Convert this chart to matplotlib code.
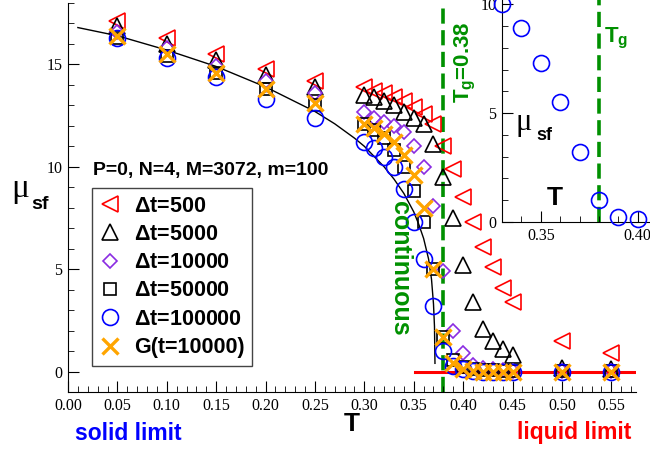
import numpy as np
import matplotlib
matplotlib.use("Agg")
import matplotlib.pyplot as plt
from matplotlib.ticker import MultipleLocator, FormatStrFormatter

plt.rcParams['font.family'] = ['Liberation Sans', 'DejaVu Sans']
plt.rcParams['mathtext.fontset'] = 'custom'
plt.rcParams['mathtext.rm'] = 'Liberation Sans:bold'
plt.rcParams['mathtext.bf'] = 'Liberation Sans:bold'
plt.rcParams['mathtext.it'] = 'Liberation Serif'

# temperatures of the measurements
T = [0.05, 0.10, 0.15, 0.20, 0.25,
     0.30, 0.31, 0.32, 0.33, 0.34, 0.35, 0.36, 0.37, 0.38, 0.39, 0.40,
     0.41, 0.42, 0.43, 0.44, 0.45, 0.50, 0.55]

mu_dt500 = [17.1, 16.3, 15.5, 14.8, 14.2,
            13.9, 13.7, 13.6, 13.4, 13.2, 12.9, 12.6, 12.1, 11.0, 9.9, 8.5,
            7.3, 6.1, 5.1, 4.1, 3.4, 1.5, 0.9]
mu_dt5000 = [16.9, 16.0, 15.2, 14.5, 13.9,
             13.5, 13.4, 13.2, 13.0, 12.7, 12.4, 12.1, 11.1, 9.5, 7.5, 5.2,
             3.4, 2.1, 1.5, 1.1, 0.8, 0.15, 0.1]
mu_dt10000 = [16.6, 15.8, 14.9, 14.2, 13.6,
              12.7, 12.4, 12.2, 12.0, 11.7, 11.0, 10.0, 8.1, 4.9, 2.0, 0.9,
              0.3, 0.15, 0.1, 0.08, 0.05, 0.05, 0.05]
mu_dt50000 = [16.3, 15.4, 14.6, 13.8, 13.0,
              12.1, 11.8, 11.4, 10.8, 10.0, 8.8, 7.3, 5.0, 1.7, 0.55, 0.2,
              0.1, 0.08, 0.06, 0.05, 0.05, 0.05, 0.05]
mu_dt100000 = [16.3, 15.3, 14.4, 13.3, 12.4,
               11.2, 10.9, 10.5, 10.0, 8.9, 7.3, 5.5, 3.2, 1.0, 0.25, 0.12,
               0.05, 0.0, 0.0, 0.0, 0.0, 0.0, 0.0]
mu_G = [16.4, 15.5, 14.6, 13.8, 13.1,
        12.1, 11.9, 11.6, 11.2, 10.6, 9.6, 8.0, 5.0, 1.7, 0.4, 0.1,
        0.05, 0.0, 0.0, 0.0, 0.0, 0.0, 0.0]

# fitted curve
fit_T = [0.01, 0.05, 0.10, 0.15, 0.20, 0.25, 0.27, 0.29, 0.30, 0.31, 0.32,
         0.33, 0.34, 0.35, 0.355, 0.36, 0.365, 0.368, 0.370, 0.371, 0.3715]
fit_mu = [16.8, 16.4, 15.7, 14.9, 13.9, 12.7, 12.1, 11.4, 11.0, 10.5, 10.0,
          9.4, 8.7, 7.8, 7.2, 6.5, 5.5, 4.5, 3.3, 2.2, 0.4]

zero_T = [0.351, 0.575]
zero_mu = [0.0, 0.0]
T_g = 0.38

GREEN = '#009000'
PURPLE = '#8a2be2'
ORANGE = '#ffa500'

W, H = 650, 450


def fx(x):
    return x / W


def fy(y):
    return 1 - y / H


fig = plt.figure(figsize=(6.5, 4.5), dpi=100)
ax = fig.add_axes([fx(68), fy(392), (636 - 68) / W, (392 - 3) / H])

ax.plot(fit_T, fit_mu, color='black', lw=1.0, zorder=2)
ax.plot(zero_T, zero_mu, color='red', lw=2.2, zorder=2)
ax.axvline(T_g, color=GREEN, lw=2.6, dashes=(4.2, 1.8), zorder=1)

mk = dict(ls='none', mfc='none', clip_on=False, zorder=3)
ax.plot(T, mu_dt500, marker='<', ms=11, mec='red', mew=1.2, label=r'$\Delta$t=500', **mk)
ax.plot(T, mu_dt5000, marker='^', ms=11, mec='black', mew=1.2, label=r'$\Delta$t=5000', **mk)
ax.plot(T, mu_dt10000, marker='D', ms=7.5, mec=PURPLE, mew=1.2, label=r'$\Delta$t=10000', **mk)
ax.plot(T, mu_dt50000, marker='s', ms=8, mec='black', mew=1.2, label=r'$\Delta$t=50000', **mk)
ax.plot(T, mu_dt100000, marker='o', ms=11.5, mec='blue', mew=1.2, label=r'$\Delta$t=100000', **mk)
ax.plot(T, mu_G, marker='x', ms=11, mec=ORANGE, mew=2.4, label='G(t=10000)', **mk)

ax.set_xlim(0, 0.575)
ax.set_ylim(-1, 18)
for s in ['top', 'right']:
    ax.spines[s].set_visible(False)
ax.xaxis.set_major_locator(MultipleLocator(0.05))
ax.xaxis.set_minor_locator(MultipleLocator(0.01))
ax.xaxis.set_major_formatter(FormatStrFormatter('%.2f'))
ax.yaxis.set_major_locator(MultipleLocator(5))
ax.yaxis.set_minor_locator(MultipleLocator(1))
ax.tick_params(which='both', direction='in', labelsize=11.5, top=False, right=False)
ax.tick_params(which='major', length=8, pad=4)
ax.tick_params(which='minor', length=4)
for lab in ax.get_xticklabels() + ax.get_yticklabels():
    lab.set_family('Liberation Serif')

leg = ax.legend(loc='upper left', bbox_to_anchor=((92 - 68) / 568, (392 - 188) / 389),
                borderaxespad=0, frameon=True, fancybox=False, edgecolor='#444444',
                prop={'family': 'Liberation Sans', 'weight': 'bold', 'size': 15.5},
                handlelength=1.0, handletextpad=0.6, labelspacing=0.34,
                borderpad=0.35, framealpha=1)
leg.get_frame().set_linewidth(1.0)

fig.text(fx(93), fy(170), 'P=0, N=4, M=3072, m=100', ha='left', va='center',
         fontsize=14, fontweight='bold')
fig.text(fx(20), fy(190), r'$\mathit{\mu}$', ha='center', va='center', fontsize=24)
fig.text(fx(40), fy(204), 'sf', ha='center', va='center', fontsize=14, fontweight='bold')
fig.text(fx(352), fy(424), 'T', ha='center', va='center', fontsize=19, fontweight='bold')
fig.text(fx(128), fy(433), 'solid limit', ha='center', va='center', fontsize=16.5,
         fontweight='bold', color='blue')
fig.text(fx(574), fy(433), 'liquid limit', ha='center', va='center', fontsize=16.5,
         fontweight='bold', color='red')
fig.text(fx(400), fy(268), 'continuous', ha='center', va='center', fontsize=18,
         fontweight='bold', color=GREEN, rotation=-90)
fig.text(fx(465), fy(62), r'T$_{\mathrm{g}}$=0.38', ha='center', va='center', fontsize=16,
         fontweight='bold', color=GREEN, rotation=90)

# inset with the slowest series close to T_g
ins = fig.add_axes([fx(502), fy(222), (657 - 502) / W, 222 / H], facecolor='white')
T_in = [t for t in T if 0.325 < t < 0.405]
mu_in = [m for t, m in zip(T, mu_dt100000) if 0.325 < t < 0.405]
ins.plot(T_in, mu_in, ls='none', marker='o', ms=11.5, mfc='none', mec='blue', mew=1.2,
         clip_on=False, zorder=3)
ins.axvline(T_g, color=GREEN, lw=2.6, dashes=(4.2, 1.8), zorder=1)
ins.set_xlim(0.33, 0.41)
ins.set_ylim(0, 10.2)
for s in ['top', 'right']:
    ins.spines[s].set_visible(False)
ins.xaxis.set_major_locator(MultipleLocator(0.05))
ins.xaxis.set_minor_locator(MultipleLocator(0.01))
ins.xaxis.set_major_formatter(FormatStrFormatter('%.2f'))
ins.yaxis.set_major_locator(MultipleLocator(5))
ins.yaxis.set_minor_locator(MultipleLocator(1))
ins.tick_params(which='both', direction='in', labelsize=11.5)
ins.tick_params(which='major', length=8, pad=4)
ins.tick_params(which='minor', length=4)
for lab in ins.get_xticklabels() + ins.get_yticklabels():
    lab.set_family('Liberation Serif')

fig.text(fx(616), fy(38), r'T$_{\mathrm{g}}$', ha='center', va='center', fontsize=16,
         fontweight='bold', color=GREEN)
fig.text(fx(524), fy(124), r'$\mathit{\mu}$', ha='center', va='center', fontsize=22)
fig.text(fx(544), fy(136), 'sf', ha='center', va='center', fontsize=13, fontweight='bold')
fig.text(fx(555), fy(198), 'T', ha='center', va='center', fontsize=19, fontweight='bold')

fig.savefig('out.png', dpi=100)
